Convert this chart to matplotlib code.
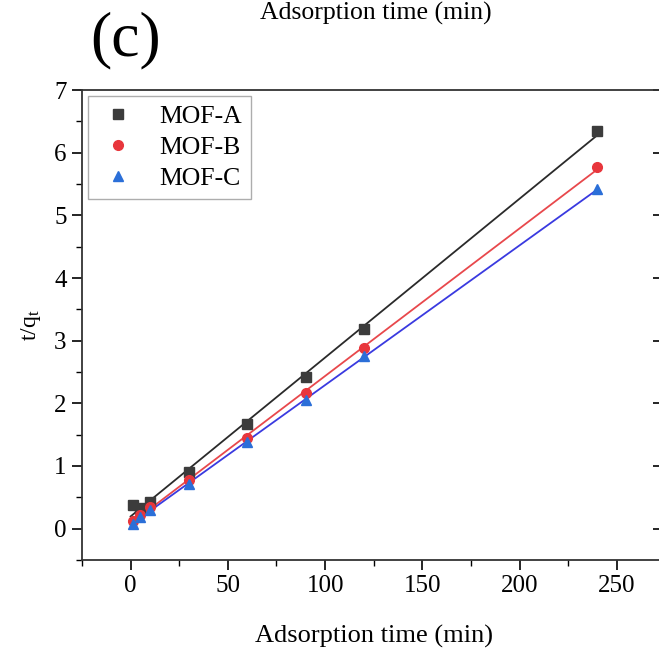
import numpy as np
import matplotlib
matplotlib.use('Agg')
import matplotlib.pyplot as plt
from matplotlib.ticker import MultipleLocator

plt.rcParams['font.family'] = ['Liberation Serif', 'DejaVu Serif']
plt.rcParams['mathtext.fontset'] = 'custom'
plt.rcParams['mathtext.rm'] = 'Liberation Serif'
plt.rcParams['mathtext.it'] = 'Liberation Serif'

# adsorption time (min) and t/qt values
time = np.array([1, 5, 10, 30, 60, 90, 120, 240])
mof_a = np.array([0.38, 0.33, 0.43, 0.90, 1.67, 2.42, 3.18, 6.35])
mof_b = np.array([0.12, 0.22, 0.35, 0.78, 1.45, 2.17, 2.88, 5.77])
mof_c = np.array([0.08, 0.19, 0.30, 0.72, 1.38, 2.05, 2.75, 5.42])

series = [
    ('MOF-A', mof_a, 's', '#3c3c3c', '#2a2a2a'),
    ('MOF-B', mof_b, 'o', '#e8363c', '#e8484c'),
    ('MOF-C', mof_c, '^', '#2b6fd8', '#3a3ae0'),
]

fig = plt.figure(figsize=(6.59, 6.5), dpi=100)
ax = fig.add_axes([0.1244, 0.1385, 0.887, 0.723])

xfit = np.array([0, 240])
for name, y, mk, mcol, lcol in series:
    k, b = np.polyfit(time, y, 1)
    ax.plot(xfit, k * xfit + b, color=lcol, lw=1.3, zorder=2)
    ax.plot(time, y, ls='none', marker=mk, ms=7, color=mcol, label=name, zorder=3)

ax.set_xlim(-25, 275.5)
ax.set_ylim(-0.5, 7)
ax.xaxis.set_major_locator(MultipleLocator(50))
ax.xaxis.set_minor_locator(MultipleLocator(25))
ax.yaxis.set_major_locator(MultipleLocator(1))
ax.yaxis.set_minor_locator(MultipleLocator(0.5))
ax.tick_params(which='major', direction='out', length=7, width=1.2, labelsize=18, pad=4)
ax.tick_params(which='minor', direction='out', length=4, width=1.0)
for s in ax.spines.values():
    s.set_linewidth(1.3)
    s.set_color('#333333')

sec = ax.secondary_yaxis('right')
sec.yaxis.set_major_locator(MultipleLocator(1))
sec.tick_params(direction='in', length=10, width=1.2, labelright=False)

ax.set_xlabel('Adsorption time (min)', fontsize=19, labelpad=20)
ax.set_ylabel('t/q$_\\mathregular{t}$', fontsize=17, labelpad=8)

leg = ax.legend(loc='upper left', fontsize=18.5, frameon=True, fancybox=False,
                edgecolor='#999999', handletextpad=0.8, borderpad=0.35,
                labelspacing=0.3, handlelength=1.6, borderaxespad=0.25)
leg.get_frame().set_linewidth(1.0)

fig.text(0.191, 0.938, '(c)', fontsize=46, ha='center', va='center')
fig.text(0.571, 0.979, 'Adsorption time (min)', fontsize=18.5, ha='center', va='center')

fig.savefig('out.png', dpi=100)
